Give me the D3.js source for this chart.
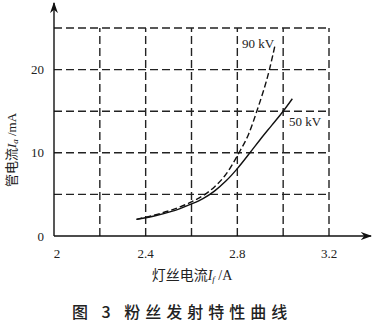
<!DOCTYPE html>
<html>
<head>
<meta charset="utf-8">
<script src="https://cdn.jsdelivr.net/npm/d3@7"></script>
<style>
  body { margin: 0; background: #fff; }
  svg { display: block; }
</style>
</head>
<body>
<div id="chart"></div>
<script>
// data
var xTicks = [2, 2.4, 2.8, 3.2];
var yTicks = [0, 10, 20];
var xGrid = [2.2, 2.4, 2.6, 2.8, 3.0, 3.2];
var yGrid = [5, 10, 15, 20, 25];

var kv50 = [[2.36, 2.0], [2.45, 2.5], [2.55, 3.3], [2.6, 3.85], [2.65, 4.5], [2.7, 5.4], [2.75, 6.6],
            [2.8, 8.1], [2.855, 10.0], [2.9, 11.6], [2.95, 13.3], [3.0, 15.0], [3.04, 16.5]];
var kv90 = [[2.36, 2.0], [2.45, 2.6], [2.55, 3.5], [2.6, 4.1], [2.65, 4.85], [2.7, 5.9], [2.75, 7.4],
            [2.805, 9.9], [2.85, 12.3], [2.885, 15.0], [2.94, 20.0], [2.965, 23.0]];

var W = 374, H = 333;
var svg = d3.select("#chart").append("svg").attr("width", W).attr("height", H);

var x = d3.scaleLinear().domain([2, 3.2]).range([54, 329]);
var y = d3.scaleLinear().domain([0, 25]).range([236, 28]);

var serif = "'Liberation Serif', 'DejaVu Serif', serif";
var cjk = "'Noto Sans CJK SC', sans-serif";

// grid
svg.selectAll(".hg").data(yGrid).enter().append("line")
  .attr("x1", x(2)).attr("x2", x(3.2))
  .attr("y1", function (d) { return y(d); }).attr("y2", function (d) { return y(d); })
  .attr("stroke", "#222").attr("stroke-width", 1.4).attr("stroke-dasharray", "8,4");
svg.selectAll(".vg").data(xGrid).enter().append("line")
  .attr("y1", y(0)).attr("y2", y(25))
  .attr("x1", function (d) { return x(d); }).attr("x2", function (d) { return x(d); })
  .attr("stroke", "#222").attr("stroke-width", 1.4).attr("stroke-dasharray", "8,4");

// axes with arrows
svg.append("defs").append("marker")
  .attr("id", "arr").attr("viewBox", "0 0 10 10").attr("refX", 9).attr("refY", 5)
  .attr("markerWidth", 8).attr("markerHeight", 8).attr("orient", "auto")
  .append("path").attr("d", "M0,1.5 L10,5 L0,8.5 L3,5 Z").attr("fill", "#111");
svg.append("line").attr("x1", x(2)).attr("x2", 371).attr("y1", y(0)).attr("y2", y(0))
  .attr("stroke", "#111").attr("stroke-width", 1.4).attr("marker-end", "url(#arr)");
svg.append("line").attr("x1", x(2)).attr("x2", x(2)).attr("y1", y(0)).attr("y2", 3)
  .attr("stroke", "#111").attr("stroke-width", 1.4).attr("marker-end", "url(#arr)");

// tick labels
svg.selectAll(".xt").data(xTicks).enter().append("text")
  .attr("x", function (d) { return x(d) + (d == 2 ? 3 : 0); }).attr("y", 258)
  .attr("text-anchor", "middle").attr("font-family", serif).attr("font-size", 13).attr("fill", "#222")
  .text(function (d) { return d; });
svg.selectAll(".yt").data(yTicks).enter().append("text")
  .attr("x", 44).attr("y", function (d) { return y(d) + 4.5; })
  .attr("text-anchor", "end").attr("font-family", serif).attr("font-size", 13).attr("fill", "#222")
  .text(function (d) { return d; });

// curves
var line = d3.line().curve(d3.curveMonotoneX)
  .x(function (d) { return x(d[0]); }).y(function (d) { return y(d[1]); });
svg.append("path").datum(kv50).attr("d", line).attr("fill", "none")
  .attr("stroke", "#111").attr("stroke-width", 1.4);
svg.append("path").datum(kv90).attr("d", line).attr("fill", "none")
  .attr("stroke", "#111").attr("stroke-width", 1.4).attr("stroke-dasharray", "6,3");

// curve labels
svg.append("text").attr("x", 242).attr("y", 48).attr("font-family", serif).attr("font-size", 13)
  .attr("fill", "#222").text("90 kV");
svg.append("text").attr("x", 289).attr("y", 126).attr("font-family", serif).attr("font-size", 13)
  .attr("fill", "#222").text("50 kV");

// axis titles
var xt = svg.append("text").attr("x", 192).attr("y", 280).attr("text-anchor", "middle")
  .attr("font-size", 14).attr("fill", "#222").attr("font-family", cjk);
xt.append("tspan").text("灯丝电流");
xt.append("tspan").attr("font-family", serif).attr("font-style", "italic").text("I");
xt.append("tspan").attr("font-family", serif).attr("font-style", "italic").attr("font-size", 9).attr("dy", 2).text("f");
xt.append("tspan").attr("font-family", serif).attr("dy", -2).text(" /A");

var yt = svg.append("text").attr("transform", "translate(16,150) rotate(-90)").attr("text-anchor", "middle")
  .attr("font-size", 13).attr("fill", "#222").attr("font-family", cjk);
yt.append("tspan").text("管电流");
yt.append("tspan").attr("font-family", serif).attr("font-style", "italic").text("I");
yt.append("tspan").attr("font-family", serif).attr("font-style", "italic").attr("font-size", 9).attr("dy", 2).text("a");
yt.append("tspan").attr("font-family", serif).attr("dy", -2).text(" /mA");

// caption
svg.append("text").attr("x", 72).attr("y", 318).attr("font-family", cjk).attr("font-size", 16)
  .attr("font-weight", 500).attr("fill", "#222").attr("letter-spacing", 5)
  .text("图 3  粉丝发射特性曲线");
</script>
</body>
</html>
